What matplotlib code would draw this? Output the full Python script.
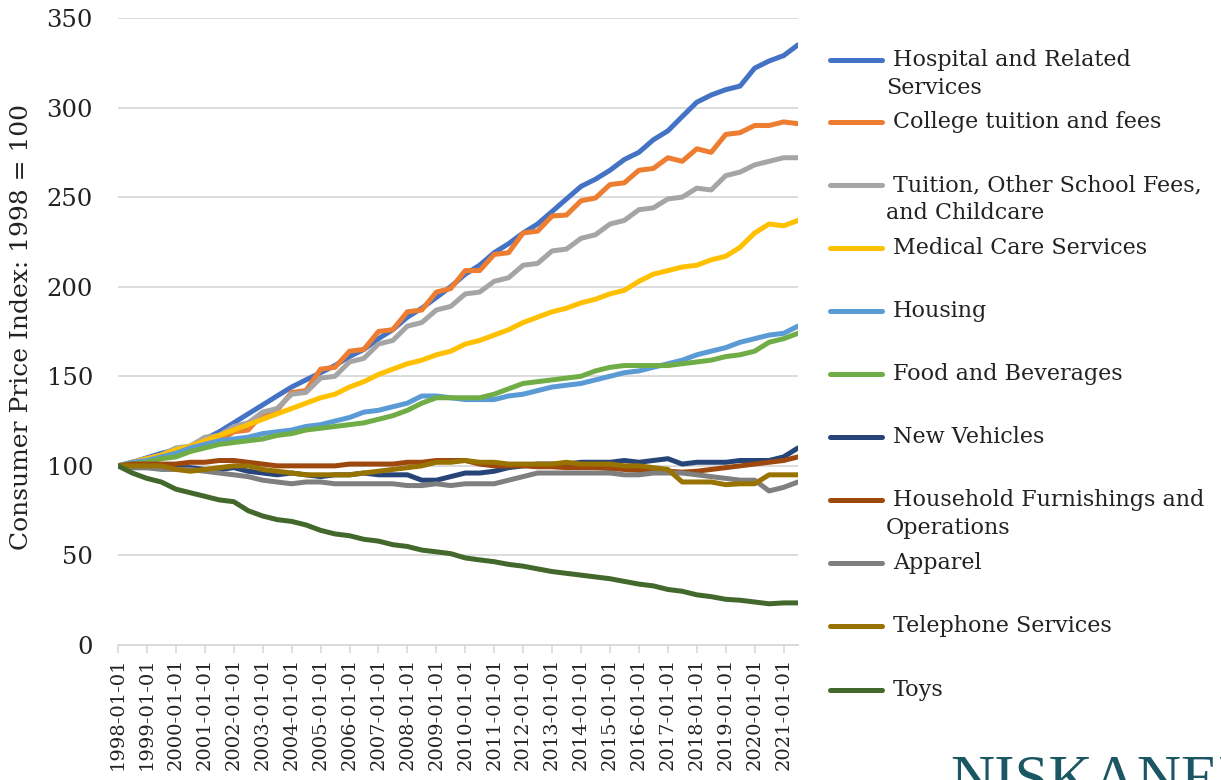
import numpy as np
import pandas as pd
import matplotlib
matplotlib.use("Agg")
import matplotlib.pyplot as plt
import matplotlib.dates as mdates
from matplotlib.lines import Line2D

# half-year sample points, Jan 1998 .. Jul 2021
dates = pd.date_range("1998-01-01", "2021-07-01", freq="6MS")

hospital = [100, 102, 104.5, 107, 109, 111, 115, 119, 124, 129, 134, 139, 144, 148, 152, 156,
            161, 165, 171, 176, 183, 188, 194, 200, 207, 212, 219, 224, 230, 235, 242, 249,
            256, 260, 265, 271, 275, 282, 287, 295, 303, 307, 310, 312, 322, 326, 329, 335]
college = [100, 101, 104, 105, 108, 109, 113, 114, 119, 120, 129, 131, 141, 142, 154, 155,
           164, 165, 175, 176, 186, 187, 197, 199, 209, 209, 218, 219, 230, 231, 239.5, 240,
           248, 249.5, 257, 258, 265, 266, 272, 270, 277, 275, 285, 286, 290, 290, 292, 291]
tuition = [100, 102, 104, 106, 110, 111, 116, 117, 122, 124, 130, 132, 140, 141, 149, 150,
           158, 160, 168, 170, 178, 180, 187, 189, 196, 197, 203, 205, 212, 213, 220, 221,
           227, 229, 235, 237, 243, 244, 249, 250, 255, 254, 262, 264, 268, 270, 272, 272]
medical = [100, 102, 104, 106, 109, 111, 114, 117, 120, 123, 126, 129, 132, 135, 138, 140,
           144, 147, 151, 154, 157, 159, 162, 164, 168, 170, 173, 176, 180, 183, 186, 188,
           191, 193, 196, 198, 203, 207, 209, 211, 212, 215, 217, 222, 230, 235, 234, 237]
housing = [100, 102, 103, 105, 107, 110, 112, 114, 115, 116, 118, 119, 120, 122, 123, 125,
           127, 130, 131, 133, 135, 139, 139, 138, 137, 137, 137, 139, 140, 142, 144, 145,
           146, 148, 150, 152, 153, 155, 157, 159, 162, 164, 166, 169, 171, 173, 174, 178]
food = [100, 101, 102, 104, 105, 108, 110, 112, 113, 114, 115, 117, 118, 120, 121, 122,
        123, 124, 126, 128, 131, 135, 138, 138, 138, 138, 140, 143, 146, 147, 148, 149,
        150, 153, 155, 156, 156, 156, 156, 157, 158, 159, 161, 162, 164, 169, 171, 174]
vehicles = [100, 99, 99, 99, 99, 99, 98, 98, 99, 97, 96, 95, 96, 95, 94, 95,
            95, 96, 95, 95, 95, 92, 92, 94, 96, 96, 97, 99, 100, 101, 101, 101,
            102, 102, 102, 103, 102, 103, 104, 101, 102, 102, 102, 103, 103, 103, 105, 110]
household = [100, 101, 101, 101, 101, 102, 102, 103, 103, 102, 101, 100, 100, 100, 100, 100,
             101, 101, 101, 101, 102, 102, 103, 103, 103, 101, 100, 100, 100, 99.5, 99.5, 99,
             99, 99, 98.5, 98, 97.5, 97, 97, 96.5, 97, 98, 99, 100, 101, 102, 103, 105]
apparel = [100, 99, 99, 98, 98, 98, 97, 96, 95, 94, 92, 91, 90, 91, 91, 90,
           90, 90, 90, 90, 89, 89, 90, 89, 90, 90, 90, 92, 94, 96, 96, 96,
           96, 96, 96, 95, 95, 96, 96, 96, 95, 94, 93, 92, 92, 86, 88, 91]
telephone = [100, 100, 100, 100, 98, 97, 98, 99, 100, 100, 98, 97, 96, 95, 95, 95,
             95, 96, 97, 98, 99, 100, 102, 102, 103, 102, 102, 101, 101, 101, 101, 102,
             101, 101, 101, 100, 100, 99, 98, 91, 91, 91, 89.5, 90, 90, 95, 95, 95]
toys = [100, 96, 93, 91, 87, 85, 83, 81, 80, 75, 72, 70, 69, 67, 64, 62,
        61, 59, 58, 56, 55, 53, 52, 51, 48.6, 47.5, 46.5, 45, 44, 42.5, 41, 40,
        39, 38, 37, 35.5, 34, 33, 31, 30, 28, 27, 25.5, 25, 24, 23, 23.5, 23.5]

series = [hospital, college, tuition, medical, housing, food,
          vehicles, household, apparel, telephone, toys]
labels = ["Hospital and Related\nServices", "College tuition and fees",
          "Tuition, Other School Fees,\nand Childcare", "Medical Care Services",
          "Housing", "Food and Beverages", "New Vehicles",
          "Household Furnishings and\nOperations", "Apparel",
          "Telephone Services", "Toys"]
colors = ["#4472C4", "#ED7D31", "#A5A5A5", "#FFC000", "#5B9BD5", "#70AD47",
          "#264478", "#9E480E", "#7F7F7F", "#997300", "#43682B"]

W, H = 1221, 780
fig = plt.figure(figsize=(W / 100, H / 100), dpi=100)
ax = fig.add_axes([118 / W, 1 - 645 / H, 680 / W, 627 / H])

for vals, c in zip(series, colors):
    ax.plot(dates, vals, color=c, lw=3.6, solid_capstyle="round", solid_joinstyle="round")

ax.set_ylim(0, 350)
ax.set_yticks(np.arange(0, 351, 50))
ax.set_xlim(dates[0], dates[-1])
ax.xaxis.set_major_locator(mdates.YearLocator())
ax.xaxis.set_major_formatter(mdates.DateFormatter("%Y-%m-%d"))

ax.grid(axis="y", color="#d9d9d9", lw=1.3)
ax.set_axisbelow(True)
for s in ["top", "right", "left"]:
    ax.spines[s].set_visible(False)
ax.spines["bottom"].set_color("#d9d9d9")
ax.spines["bottom"].set_linewidth(1.3)
ax.tick_params(axis="y", length=0, pad=18, labelsize=17.5, labelcolor="#222222")
ax.tick_params(axis="x", length=6, width=1.2, color="#d9d9d9", pad=3,
               labelsize=14, labelcolor="#222222", labelrotation=90)
for t in ax.get_yticklabels() + ax.get_xticklabels():
    t.set_fontfamily("DejaVu Serif")

fig.text(22 / W, 1 - 327 / H, "Consumer Price Index: 1998 = 100", rotation=90,
         ha="center", va="center", fontsize=18, family="DejaVu Serif", color="#222222")

# legend, drawn Excel-style with wrapped labels
ys = [60, 122, 185, 248, 311, 374, 437, 500, 563, 626, 690]
for y, lab, c in zip(ys, labels, colors):
    fig.add_artist(Line2D([830 / W, 882 / W], [1 - y / H, 1 - y / H], color=c,
                          lw=3.6, solid_capstyle="round"))
    lines = lab.split("\n")
    fig.text(893 / W, 1 - y / H, lines[0], ha="left", va="center", fontsize=16,
             family="DejaVu Serif", color="#222222")
    if len(lines) > 1:
        fig.text(886 / W, 1 - (y + 28) / H, lines[1], ha="left", va="center",
                 fontsize=16, family="DejaVu Serif", color="#222222")

fig.text(950 / W, 1 - 754 / H, "NISKANEN", ha="left", va="top", fontsize=44,
         family="Liberation Serif", color="#1b5663")

fig.savefig("out.png", dpi=100)
